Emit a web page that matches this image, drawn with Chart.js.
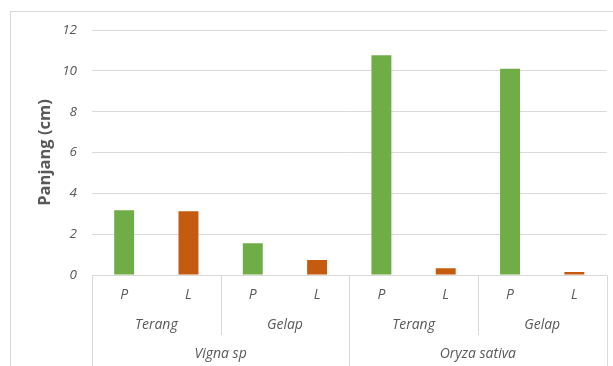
<!DOCTYPE html>
<html>
<head>
<meta charset="utf-8">
<script src="https://cdn.jsdelivr.net/npm/chart.js@4/dist/chart.umd.min.js"></script>
<style>
  html, body { margin: 0; padding: 0; background: #fff; }
  #wrap { width: 613px; height: 366px; position: relative; }
</style>
</head>
<body>
<div id="wrap"><canvas id="c" width="613" height="366"></canvas></div>
<script>
// Grouped category axis: species > light condition > organ part
const species = ['Vigna sp', 'Oryza sativa'];
const conditions = ['Terang', 'Gelap'];
const parts = ['P', 'L'];
const categories = ['P', 'L', 'P', 'L', 'P', 'L', 'P', 'L'];
// Length (cm) per category
const panjang = [3.17, 3.12, 1.55, 0.73, 10.76, 0.33, 10.1, 0.15];
const yTicks = [0, 2, 4, 6, 8, 10, 12];

const partColors = { P: '#70AD47', L: '#C55A11' };
const lineColor = '#D9D9D9';
const textColor = '#595959';
const labelFont = 'italic 14px "Open Sans"';

// Outer frame around the whole chart
const framePlugin = {
  id: 'frame',
  beforeDraw(chart) {
    const ctx = chart.ctx;
    ctx.save();
    ctx.fillStyle = '#fff';
    ctx.fillRect(0, 0, chart.width, chart.height);
    ctx.strokeStyle = lineColor;
    ctx.lineWidth = 1;
    ctx.strokeRect(10.5, 11.5, chart.width + 10, chart.height + 10);
    ctx.restore();
  }
};

// Multi-level category labels with divider lines below the plot
const groupAxisPlugin = {
  id: 'groupAxis',
  afterDraw(chart) {
    const ctx = chart.ctx;
    const x = chart.scales.x;
    const top = chart.chartArea.bottom;
    const bottom = chart.height;
    const n = categories.length;
    const step = x.getPixelForValue(1) - x.getPixelForValue(0);
    const edge = i => x.getPixelForValue(i) - step / 2;
    const row1 = top + 20, row2 = top + 50, row3 = top + 79;
    const innerEnd = top + 60;

    ctx.save();
    ctx.strokeStyle = lineColor;
    ctx.lineWidth = 1;
    const vline = (px, y2) => {
      const xx = Math.round(px) + 0.5;
      ctx.beginPath();
      ctx.moveTo(xx, top);
      ctx.lineTo(xx, y2);
      ctx.stroke();
    };
    const perCond = parts.length;
    const perSpecies = conditions.length * perCond;
    for (let i = 0; i <= n; i++) {
      if (i % perSpecies === 0) vline(edge(i), bottom);
      else if (i % perCond === 0) vline(edge(i), innerEnd);
    }

    ctx.fillStyle = textColor;
    ctx.font = labelFont;
    ctx.textAlign = 'center';
    ctx.textBaseline = 'middle';
    categories.forEach((c, i) => ctx.fillText(c, x.getPixelForValue(i), row1));
    for (let s = 0; s < species.length; s++) {
      for (let k = 0; k < conditions.length; k++) {
        const a = s * perSpecies + k * perCond;
        const cx = (edge(a) + edge(a + perCond)) / 2;
        ctx.fillText(conditions[k], cx, row2);
      }
      const a = s * perSpecies;
      ctx.fillText(species[s], (edge(a) + edge(a + perSpecies)) / 2, row3);
    }
    ctx.restore();
  }
};

new Chart(document.getElementById('c'), {
  type: 'bar',
  data: {
    labels: categories,
    datasets: [{
      label: 'Panjang',
      data: panjang,
      backgroundColor: categories.map(c => partColors[c]),
      borderWidth: 0,
      barPercentage: 0.62,
      categoryPercentage: 0.5
    }]
  },
  options: {
    responsive: false,
    animation: false,
    devicePixelRatio: 1,
    layout: { padding: { left: 0, top: 30, right: 6.5, bottom: 0 } },
    plugins: {
      legend: { display: false },
      tooltip: { enabled: false }
    },
    scales: {
      x: {
        grid: { display: false },
        border: { display: false },
        ticks: { display: false },
        afterFit(scale) { scale.height = 91; }
      },
      y: {
        min: 0,
        max: 12,
        afterBuildTicks(scale) { scale.ticks = yTicks.map(v => ({ value: v })); },
        grid: { color: lineColor, lineWidth: 1, drawTicks: false },
        border: { display: false },
        ticks: {
          padding: 15,
          color: textColor,
          font: { family: 'Open Sans', size: 13.5, style: 'italic' }
        },
        title: {
          display: true,
          text: 'Panjang (cm)',
          color: textColor,
          font: { family: 'Open Sans', size: 16.5, weight: 'bold' },
          padding: { top: 35, bottom: 0 }
        },
        afterFit(scale) { scale.width = 92; }
      }
    }
  },
  plugins: [framePlugin, groupAxisPlugin]
});
</script>
</body>
</html>
